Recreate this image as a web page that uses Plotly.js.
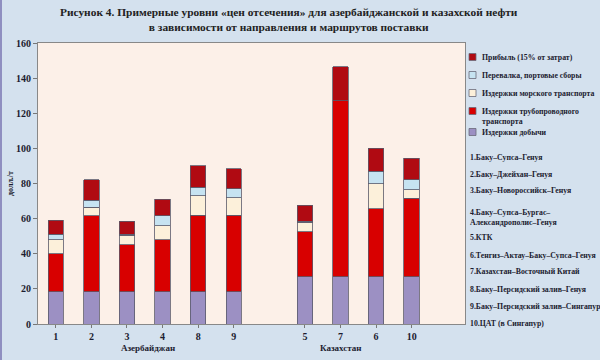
<!DOCTYPE html>
<html>
<head>
<meta charset="utf-8">
<script src="https://cdn.plot.ly/plotly-3.0.1.min.js"></script>
<style>html,body{margin:0;padding:0;background:#d4e1ee;}#chart{width:600px;height:360px;}</style>
</head>
<body>
<div id="chart"></div>
<script>
// ---- data ----
const routes = ['1', '2', '3', '4', '8', '9', '5', '7', '6', '10'];
const routeGroup = [0, 0, 0, 0, 0, 0, 1, 1, 1, 1];
const groupNames = ['Азербайджан', 'Казахстан'];
const production = [18.5, 18.5, 18.5, 18.5, 18.5, 18.5, 27, 27, 27, 27];
const pipeline = [21.5, 43, 26.5, 29.5, 43.5, 43.5, 25.5, 100, 38.5, 44.5];
const seaTransport = [8, 5, 5.5, 8, 11, 10, 5.5, 0, 14.5, 5];
const portFees = [3, 4, 0.5, 5.5, 5, 5, 0.5, 0, 7, 5.5];
const profit = [8, 11.5, 7.5, 9.5, 12, 11.5, 9, 19.5, 13, 12.5];
const seriesNames = ['Издержки добычи', 'Издержки трубопроводного<br>транспорта',
  'Издержки морского транспорта', 'Перевалка, портовые сборы', 'Прибыль (15% от затрат)'];
const routeNames = ['1.Баку–Супса–Генуя', '2.Баку–Джейхан–Генуя', '3.Баку–Новороссийск–Генуя',
  '4.Баку–Супса–Бургас–<br>Александрополис–Генуя', '5.КТК', '6.Тенгиз–Актау–Баку–Супса–Генуя',
  '7.Казахстан–Восточный Китай', '8.Баку–Персидский залив–Генуя',
  '9.Баку–Персидский залив–Сингапур', '10.ЦАТ (в Сингапур)'];
const titleText = 'Рисунок 4. Примерные уровни «цен отсечения» для азербайджанской и казахской нефти<br>в зависимости от направления и маршрутов поставки';

// ---- styling ----
const colors = ['#9c90c3', '#d80000', '#fcf0da', '#c6e3f1', '#b00a12'];
const serif = 'Liberation Serif, Times New Roman, serif';
const textCol = '#1c1c30';

// positions: one empty slot between the country groups
const xpos = routes.map((r, i) => i + routeGroup[i]);
const allSeries = [production, pipeline, seaTransport, portFees, profit];

const traces = allSeries.map((vals, k) => ({
  type: 'bar',
  x: xpos,
  y: vals,
  name: seriesNames[k],
  width: 0.43,
  marker: {color: colors[k], line: {color: '#5a5a6a', width: 0.8}},
  hoverinfo: 'y+name',
  showlegend: false
}));

// plot area pixel geometry
const L = 38, R = 135, T = 43, B = 36, W = 600, H = 360;
const plotH = H - T - B, plotW = W - L - R;
const py = p => (H - B - p) / plotH;
const px = p => (p - L) / plotW;

const annotations = [];
const shapes = [];

// title
annotations.push({
  xref: 'paper', yref: 'paper', x: px(289), y: py(19), xanchor: 'center', yanchor: 'middle',
  text: titleText, showarrow: false, align: 'center',
  font: {family: serif, size: 11.4, color: '#222', weight: 'bold'}
});

// legend (drawn by hand: small square swatches as in the original)
const legendY = [132, 111, 93, 75, 57];   // per series (production ... profit)
seriesNames.forEach((name, k) => {
  shapes.push({
    type: 'rect', xref: 'paper', yref: 'paper',
    x0: px(469), x1: px(476), y0: py(legendY[k] + 3.5), y1: py(legendY[k] - 3.5),
    fillcolor: colors[k], line: {color: '#6a6a7a', width: 0.8}
  });
  annotations.push({
    xref: 'paper', yref: 'paper', x: px(480), y: py(legendY[k] - 6), xanchor: 'left', yanchor: 'top',
    text: name, showarrow: false, align: 'left',
    font: {family: serif, size: 7.8, color: textCol, weight: 'bold'}
  });
});

// route list
const routeY = [157, 174, 190, 217, 237, 255, 271, 289, 306, 323];
routeNames.forEach((t, i) => annotations.push({
  xref: 'paper', yref: 'paper', x: px(468), y: py(routeY[i]), xanchor: 'left', yanchor: 'middle',
  text: t, showarrow: false, align: 'left',
  font: {family: serif, size: 7.8, color: textCol, weight: 'bold'}
}));

// group labels
const groupX = [2.6, 8.0];
groupNames.forEach((g, i) => annotations.push({
  xref: 'x', yref: 'paper', x: groupX[i], y: py(348), xanchor: 'center', yanchor: 'middle',
  text: g, showarrow: false,
  font: {family: serif, size: 9, color: textCol, weight: 'bold'}
}));

// scanned page edge on the left
shapes.push({
  type: 'rect', xref: 'paper', yref: 'paper', x0: px(0), x1: px(2), y0: py(360), y1: py(0),
  fillcolor: '#8f8fc0', line: {width: 0}
});

const layout = {
  width: W, height: H,
  margin: {l: L, r: R, t: T, b: B, pad: 0, autoexpand: false},
  paper_bgcolor: '#d4e1ee',
  plot_bgcolor: '#fcf0e8',
  barmode: 'stack',
  xaxis: {
    range: [-0.5, 11.5],
    tickvals: xpos, ticktext: routes,
    ticks: 'outside', ticklen: 3, tickcolor: '#777',
    showgrid: false, zeroline: false,
    showline: true, linecolor: '#888', linewidth: 1, mirror: true,
    tickfont: {family: serif, size: 10, color: textCol, weight: 'bold'}
  },
  yaxis: {
    range: [0, 160], dtick: 20,
    ticks: 'outside', ticklen: 4, tickcolor: '#777',
    showgrid: false, zeroline: false,
    showline: true, linecolor: '#888', linewidth: 1, mirror: true,
    tickfont: {family: serif, size: 10, color: textCol, weight: 'bold'},
    title: {text: 'долл./т', standoff: 1, font: {family: serif, size: 8, color: textCol, weight: 'bold'}}
  },
  showlegend: false,
  annotations: annotations,
  shapes: shapes
};

Plotly.newPlot('chart', traces, layout, {displayModeBar: false, staticPlot: true});
</script>
</body>
</html>
